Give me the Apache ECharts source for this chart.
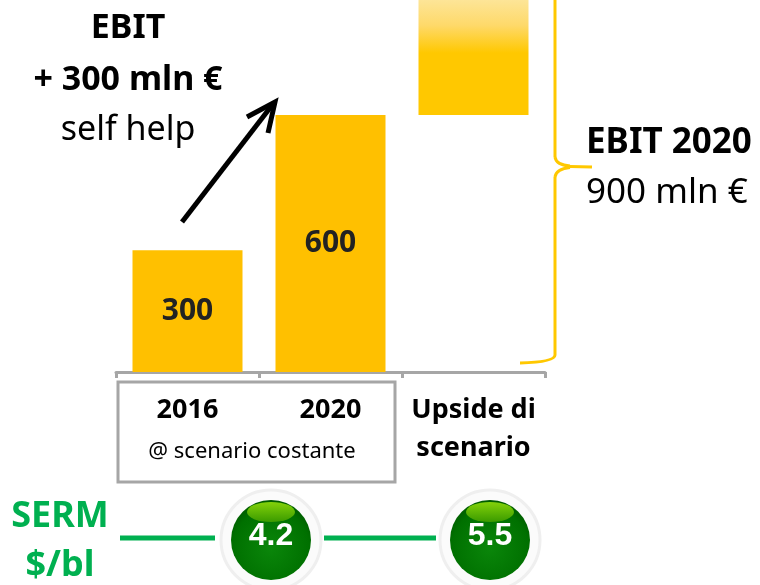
<!DOCTYPE html>
<html>
<head>
<meta charset="utf-8">
<script src="https://cdn.jsdelivr.net/npm/echarts@6/dist/echarts.min.js"></script>
<style>
  html, body { margin: 0; padding: 0; background: #ffffff; }
  #chart { width: 760px; height: 585px; }
</style>
</head>
<body>
<div id="chart"></div>
<script>
// dati del grafico
var categories = ['2016', '2020', 'Upside di\nscenario'];
var baseValues = [0, 0, 600];
var ebitValues = [300, 600, 300];
var sermLabels = ['4.2', '5.5'];
var sermX = [271, 490];

var FONT = '"Noto Sans", "Open Sans", sans-serif';
var GOLD = '#FFC000';
var GREEN = '#00B050';
var BRACE = '#FFC800';

var myChart = echarts.init(document.getElementById('chart'));

var ebitData = ebitValues.map(function (v, i) {
    if (i < 2) {
        return { value: v, itemStyle: { color: GOLD } };
    }
    // barra "upside": sfumata verso il chiaro in alto
    return {
        value: v,
        label: { show: false },
        itemStyle: {
            color: {
                type: 'linear', x: 0, y: 0, x2: 0, y2: 1,
                colorStops: [
                    { offset: 0, color: '#fde597' },
                    { offset: 0.22, color: '#fed96a' },
                    { offset: 0.46, color: '#ffc800' },
                    { offset: 1, color: '#ffc800' }
                ]
            }
        }
    };
});

var graphics = [];

function addText(x, y, text, size, weight, color, align, family) {
    graphics.push({
        type: 'text', x: x, y: y, silent: true,
        style: {
            text: text, fill: color || '#000',
            font: weight + ' ' + size + 'px ' + (family || FONT),
            textAlign: align || 'center', textVerticalAlign: 'middle'
        }
    });
}

function addLine(x1, y1, x2, y2, color, w) {
    graphics.push({
        type: 'line', silent: true,
        shape: { x1: x1, y1: y1, x2: x2, y2: y2 },
        style: { stroke: color, lineWidth: w }
    });
}

function addCurve(x1, y1, cx, cy, x2, y2, color, w) {
    graphics.push({
        type: 'bezierCurve', silent: true,
        shape: { x1: x1, y1: y1, cpx1: cx, cpy1: cy, x2: x2, y2: y2 },
        style: { stroke: color, lineWidth: w, fill: null }
    });
}

// testi a sinistra
addText(128, 28, 'EBIT', 34, 'bold');
addText(128, 80, '+ 300 mln €', 34, 'bold');
addText(128, 130, 'self help', 34, 'normal');

// freccia
addLine(182, 222, 273, 104, '#000', 5);
graphics.push({
    type: 'polyline', silent: true,
    shape: { points: [[247, 117], [275, 102], [268, 133]] },
    style: { stroke: '#000', lineWidth: 5, fill: null, lineJoin: 'miter' }
});

// parentesi graffa
addLine(555, -10, 555, 157, BRACE, 3);
addCurve(555, 157, 556, 165, 570, 166, BRACE, 3);
addLine(570, 166.5, 592, 167, BRACE, 3);
addCurve(570, 167.5, 556, 169, 555, 177, BRACE, 3);
addLine(555, 177, 555, 355, BRACE, 3);
addCurve(555, 355, 555, 362, 520, 363, BRACE, 3);

addText(586, 143, 'EBIT 2020', 35, 'bold', '#000', 'left');
addText(586, 193, '900 mln €', 35, 'normal', '#000', 'left');

// riquadro "scenario costante"
graphics.push({
    type: 'rect', silent: true,
    shape: { x: 118, y: 382, width: 277, height: 100 },
    style: { stroke: '#A6A6A6', lineWidth: 3, fill: null }
});
addText(252, 452, '@ scenario costante', 22, 'normal');

// SERM
addText(60, 517, 'SERM', 36, 'bold', GREEN);
addText(60, 566, '$/bl', 36, 'bold', GREEN);
addLine(120, 538, 215, 538, GREEN, 5);
addLine(324, 538, 436, 538, GREEN, 5);

sermLabels.forEach(function (t, i) {
    var cx = sermX[i];
    var cy = 540;
    graphics.push({
        type: 'circle', silent: true,
        shape: { cx: cx, cy: cy, r: 50 },
        style: { fill: '#fbfbfb', stroke: '#efefef', lineWidth: 3 }
    });
    graphics.push({
        type: 'circle', silent: true,
        shape: { cx: cx, cy: cy, r: 40 },
        style: {
            fill: {
                type: 'radial', x: 0.5, y: 0.6, r: 0.6,
                colorStops: [
                    { offset: 0, color: '#0a860a' },
                    { offset: 0.8, color: '#007000' },
                    { offset: 1, color: '#005a00' }
                ]
            }
        }
    });
    // riflesso in alto
    graphics.push({
        type: 'circle', silent: true,
        x: cx, y: cy - 28, scaleY: 0.42,
        shape: { cx: 0, cy: 0, r: 24 },
        style: {
            fill: {
                type: 'linear', x: 0, y: 0, x2: 0, y2: 1,
                colorStops: [
                    { offset: 0, color: '#84d20a' },
                    { offset: 1, color: '#3a9a00' }
                ]
            }
        }
    });
    addText(cx, cy - 4, t, 32, 'bold', '#ffffff', 'center', '"Liberation Sans", Arial, sans-serif');
});

var option = {
    backgroundColor: '#ffffff',
    animation: false,
    grid: { left: 116, right: 215, top: 0, bottom: 213 },
    xAxis: {
        type: 'category',
        data: categories,
        axisLine: { lineStyle: { color: '#A6A6A6', width: 3 } },
        axisTick: { show: true, length: 6, lineStyle: { color: '#A6A6A6', width: 3 } },
        axisLabel: {
            margin: 19, color: '#000', fontFamily: FONT, fontWeight: 'bold',
            fontSize: 27, lineHeight: 38, interval: 0
        }
    },
    yAxis: {
        type: 'value', min: 30, max: 855, show: false,
        splitLine: { show: false }
    },
    series: [{
        type: 'bar', stack: 'ebit', data: baseValues, barWidth: 110,
        itemStyle: { color: 'rgba(0,0,0,0)' }, silent: true
    }, {
        type: 'bar', stack: 'ebit', data: ebitData, barWidth: 110,
        label: {
            show: true, position: 'inside', color: '#222',
            fontFamily: FONT, fontWeight: 'bold', fontSize: 30
        },
        emphasis: { disabled: true }
    }],
    graphic: graphics
};

myChart.setOption(option);
</script>
</body>
</html>
